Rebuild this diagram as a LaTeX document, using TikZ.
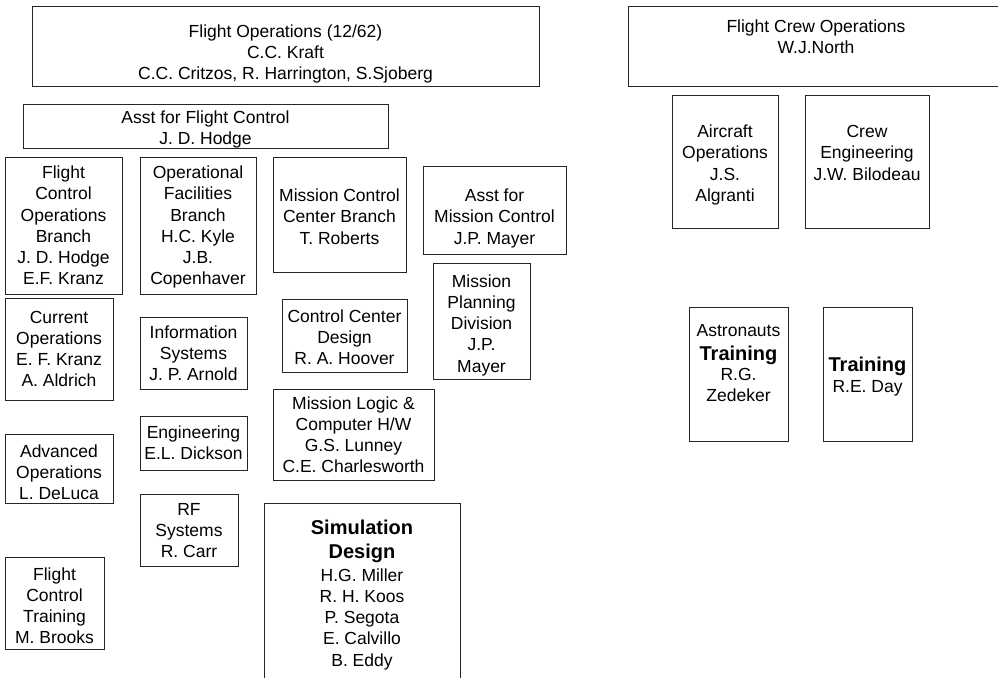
\documentclass[tikz,border=0pt]{standalone}
\usepackage{fontspec}
\setmainfont{Liberation Sans}
\tikzset{
  boxst/.style={draw=black!85, line width=1pt, inner sep=0pt},
  txtst/.style={anchor=north, align=center, inner sep=0pt, font=\fontsize{17.5}{21.2}\selectfont}
}
% name, x1, y1, x2, y2, first baseline, text
\newcommand\obox[7]{%
  \node[boxst, minimum width={#4-#2}, minimum height={#5-#3}] (#1) at ({(#2+#4)/2},{(#3+#5)/2}) {};
  \node[txtst] (#1t) at ({(#2+#4)/2},{#6-16}) {\rule{0pt}{16pt}#7};
}
\newcommand\bigb[1]{{\fontsize{20}{24}\selectfont\bfseries #1}}
\begin{document}
\begin{tikzpicture}[x=1pt,y=-1pt]
\useasboundingbox (0,0) rectangle (998,677);
\obox{fo}{32}{7}{539}{86}{37}{Flight Operations (12/62)\\C.C. Kraft\\C.C. Critzos, R. Harrington, S.Sjoberg}
\obox{fc}{628}{7}{1004}{86}{32}{Flight Crew Operations\\W.J.North}
\obox{afc}{23}{104}{388}{148}{123.5}{Asst for Flight Control\\J. D. Hodge}
\obox{fcob}{5}{157}{122}{294}{178.5}{Flight\\Control\\Operations\\Branch\\J. D. Hodge\\E.F. Kranz}
\obox{ofb}{140}{157}{256}{294}{178.5}{Operational\\Facilities\\Branch\\H.C. Kyle\\J.B.\\Copenhaver}
\obox{mccb}{273}{157}{406}{272}{201.5}{Mission Control\\Center Branch\\T. Roberts}
\obox{amc}{423}{166}{566}{254}{201.5}{Asst for\\Mission Control\\J.P. Mayer}
\obox{mpd}{433}{263}{530}{379}{287}{Mission\\Planning\\Division\\J.P.\\Mayer}
\obox{cur}{5}{298}{113}{400}{323}{Current\\Operations\\E. F. Kranz\\A. Aldrich}
\obox{inf}{140}{317}{247}{389}{338}{Information\\Systems\\J. P. Arnold}
\obox{ccd}{282}{299}{407}{372}{322}{Control Center\\Design\\R. A. Hoover}
\obox{mlc}{273}{389}{434}{480}{409}{Mission Logic \&\\Computer H/W\\G.S. Lunney\\C.E. Charlesworth}
\obox{eng}{140}{416}{247}{470}{438}{Engineering\\E.L. Dickson}
\obox{adv}{5}{434}{113}{503}{457}{Advanced\\Operations\\L. DeLuca}
\obox{rf}{140}{494}{238}{566}{515}{RF\\Systems\\R. Carr}
\obox{fct}{5}{557}{104}{649}{580}{Flight\\Control\\Training\\M. Brooks}
\obox{sim}{264}{503}{460}{700}{534}{\bigb{Simulation}\\[2.8pt]\bigb{Design}\\[1.8pt]H.G. Miller\\R. H. Koos\\P. Segota\\E. Calvillo\\B. Eddy}
\obox{acft}{672}{95}{778}{228}{137.5}{Aircraft\\Operations\\J.S.\\Algranti}
\obox{crew}{805}{95}{929}{228}{137.5}{Crew\\Engineering\\J.W. Bilodeau}
\obox{astr}{689}{307}{788}{441}{336}{Astronauts\\[3pt]\bigb{Training}\\[-1pt]R.G.\\Zedeker}
\obox{trn}{823}{307}{912}{441}{371.5}{\bigb{Training}\\R.E. Day}
\end{tikzpicture}
\end{document}
